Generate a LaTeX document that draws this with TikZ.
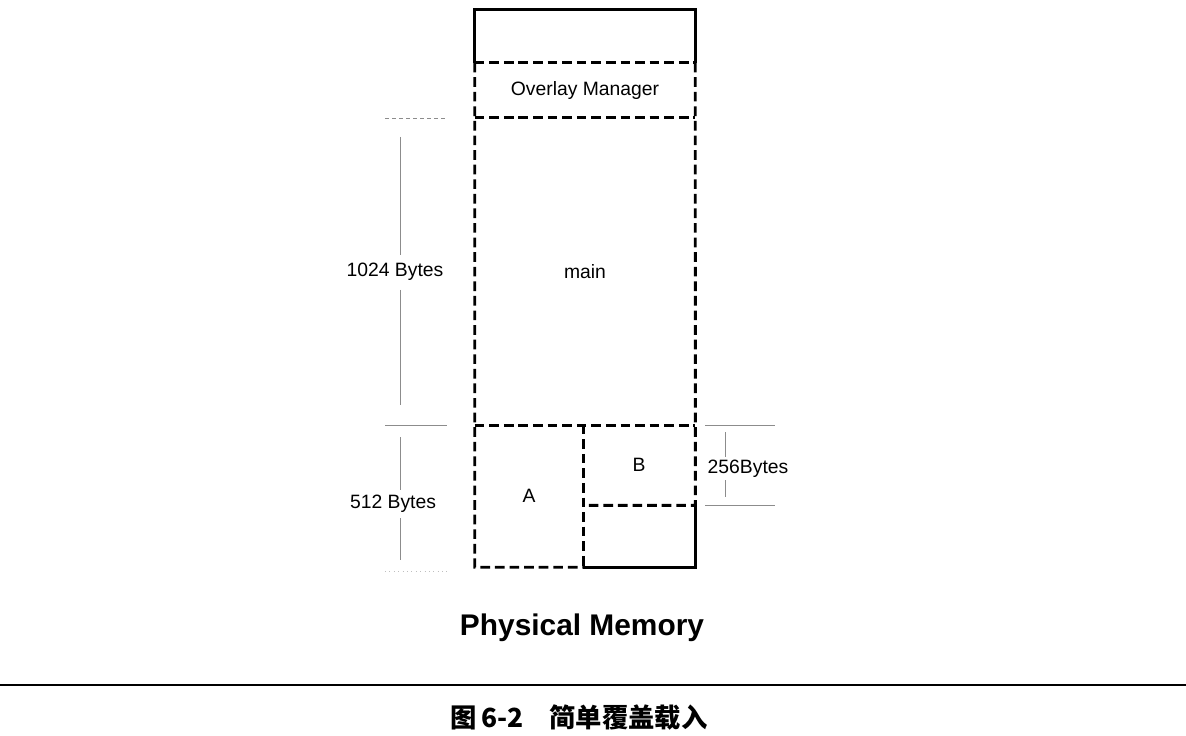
\documentclass[tikz,border=0pt]{standalone}
\usepackage{fontspec}
\setmainfont{Liberation Sans}
\newfontfamily\cjk{Noto Sans CJK SC}
\usetikzlibrary{calc}

\begin{document}
\begin{tikzpicture}[
    x=.02cm, y=-.02cm,
    frame/.style={line width=1.6pt},
    blk/.style={inner sep=0pt, font=\fontsize{11}{13}\selectfont},
    dsh/.style={line width=1.6pt, dash pattern=on 5.5pt off 2.8pt},
    dim/.style={draw=black!45, line width=.5pt},
    lbl/.style={font=\fontsize{11}{13}\selectfont},
]
    \useasboundingbox (0, 0) rectangle (1186, 736);

    %% memory blocks
    \node[blk, minimum width=4.4cm, minimum height=1.1cm] (ovl) at (585, 90.5) {Overlay Manager};
    \node[blk, minimum width=4.4cm, minimum height=6.14cm] (main) at (585, 271.5) {main};
    \node[blk, minimum width=2.16cm, minimum height=2.84cm] (A) at (529, 496) {A};
    \node[blk, minimum width=2.24cm, minimum height=1.6cm] (B) at (639, 465) {B};

    %% dashed block borders
    \draw[dsh] (ovl.north west) -- (ovl.north east);
    \draw[dsh] (main.north west) -- (main.north east);
    \draw[dsh] (main.south west) -- (main.south east);
    \draw[dsh] (ovl.north west) -- (A.south west) -- (A.south east);
    \draw[dsh] (ovl.north east) -- (B.south east) -- (B.south west);
    \draw[dsh] (A.north east) -- (A.south east);

    %% solid outer frame
    \draw[frame] (ovl.north west) -- ++(0, -53) -| (ovl.north east);
    \draw[frame] (B.south east) |- (A.south east);

    %% sizes on the left
    \draw[dim, dash pattern=on 2pt off 2pt] (385, 118) -- (447, 118);
    \node[lbl] (kb1) at (395, 272) {1024 Bytes};
    \draw[dim] (400, 137) -- (400, 255);
    \draw[dim] (400, 290) -- (400, 405);
    \draw[dim] (385, 425) -- (447, 425);
    \node[lbl] (kb2) at (393, 504) {512 Bytes};
    \draw[dim] (400, 437) -- (400, 490);
    \draw[dim] (400, 518) -- (400, 560);
    \draw[dim, draw=black!25, dotted] (385, 571) -- (447, 571);

    %% size on the right
    \draw[dim] (705, 425) -- (775, 425);
    \node[lbl] (kb3) at (748, 469) {256Bytes};
    \draw[dim] (725, 432) -- (725, 457);
    \draw[dim] (725, 480) -- (725, 497);
    \draw[dim] (705, 505) -- (775, 505);

    \node[font=\fontsize{17}{20}\selectfont\bfseries] (title) at (582, 628) {Physical Memory};

    %% caption
    \draw[line width=.8pt] (0, 685) -- (1186, 685);
    \node[font=\cjk\bfseries\fontsize{15}{18}\selectfont] (cap) at (579, 718) {图\,6-2\quad 简单覆盖载入};
\end{tikzpicture}
\end{document}
